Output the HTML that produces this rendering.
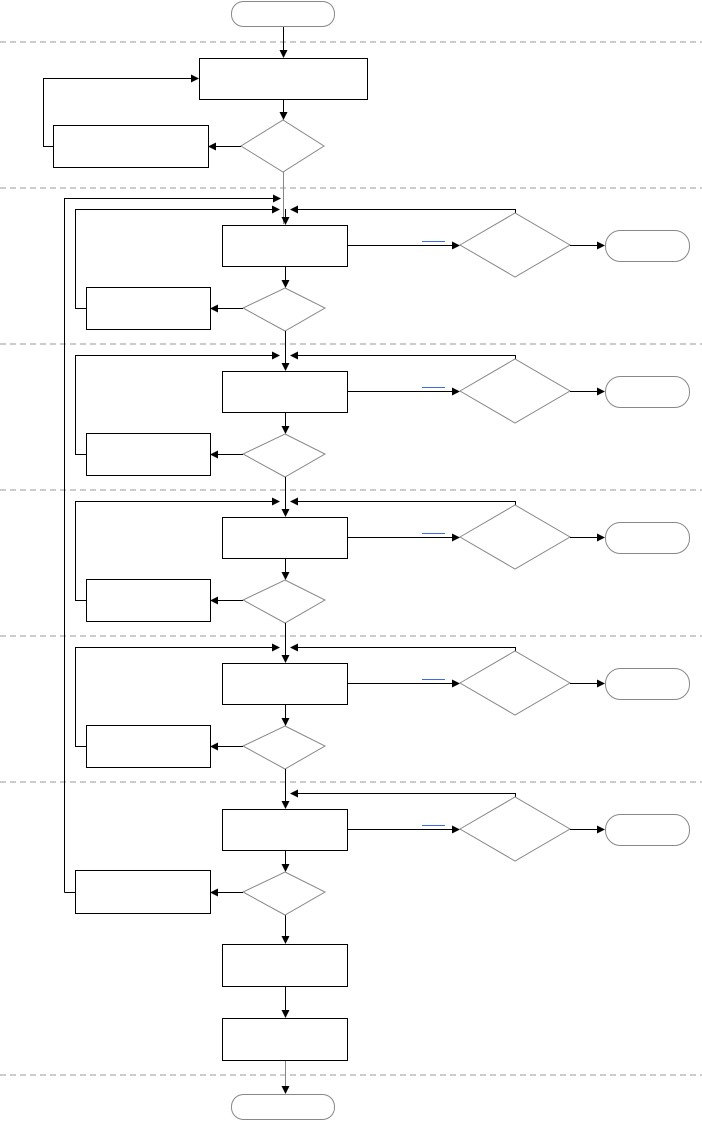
<!DOCTYPE html>
<html><head><meta charset="utf-8"><style>
html,body{margin:0;padding:0;background:#fff;}
svg{display:block;}
</style></head><body>
<svg width="702" height="1121" viewBox="0 0 702 1121" xmlns="http://www.w3.org/2000/svg" font-family="Liberation Sans, sans-serif">
<defs>
<marker id="a" markerWidth="8" markerHeight="8" refX="7" refY="4" orient="auto" markerUnits="userSpaceOnUse">
<path d="M0,0 L8,4 L0,8 z" fill="#000"/></marker>
</defs>
<g stroke="#999" stroke-dasharray="6,4" stroke-width="1">
<line x1="0" y1="42" x2="702" y2="42"/><line x1="0" y1="188" x2="702" y2="188"/>
<line x1="0" y1="344" x2="702" y2="344"/><line x1="0" y1="490" x2="702" y2="490"/>
<line x1="0" y1="636" x2="702" y2="636"/><line x1="0" y1="782" x2="702" y2="782"/>
<line x1="0" y1="1075" x2="702" y2="1075"/>
</g>
<g fill="#fff" stroke="#000" stroke-width="1">
<rect x="231.5" y="1.5" width="103" height="25" rx="12" stroke="#888"/>
<rect x="199.5" y="58.5" width="168" height="41"/>
<polygon points="283,120 324,146 283,172 241,146" stroke="#888"/>
<rect x="53.5" y="125.5" width="155" height="42"/>
<rect x="231.5" y="1094.5" width="103" height="25" rx="12" stroke="#888"/>
<rect x="222.5" y="944.5" width="125" height="42"/>
<rect x="222.5" y="1018.5" width="125" height="42"/>
</g>
<g fill="none" stroke="#000" stroke-width="1">
<path d="M283.5,27 V57" marker-end="url(#a)"/>
<path d="M283.5,100 V119" marker-end="url(#a)"/>
<path d="M241,146.5 H209" marker-end="url(#a)"/>
<path d="M53,146.5 H43.5 V78.5 H198" marker-end="url(#a)"/>
<path d="M283.5,172 V224" stroke="#888"/>
<path d="M64.5,892.5 V198.5 H280" marker-end="url(#a)"/>
<path d="M285.5,912 V943" marker-end="url(#a)"/>
<path d="M285.5,987 V1017" marker-end="url(#a)"/>
<path d="M285.5,1061 V1093" stroke="#888" marker-end="url(#a)"/>
</g>
<g id="s0">
<path d="M86,308.5 H75.5 V209.5 H279" fill="none" stroke="#000" marker-end="url(#a)"/>
<path d="M515.5,213 V209.5 H291" fill="none" stroke="#000" marker-end="url(#a)"/>
<path d="M285.5,209 V224" fill="none" stroke="#000" marker-end="url(#a)"/>
<rect x="222.5" y="225.5" width="125" height="41" fill="#fff" stroke="#000"/>
<path d="M285.5,267 V287" fill="none" stroke="#000" marker-end="url(#a)"/>
<polygon points="285,288 325,308 285,331 243,308" fill="#fff" stroke="#888"/>
<path d="M243,308.5 H211" fill="none" stroke="#000" marker-end="url(#a)"/>
<rect x="86.5" y="287.5" width="124" height="42" fill="#fff" stroke="#000"/>
<path d="M347,245.5 H459" fill="none" stroke="#000" marker-end="url(#a)"/>
<line x1="422" y1="241.5" x2="445" y2="241.5" stroke="#4169e1"/>
<polygon points="460,245 515,213 570,245 515,277" fill="#fff" stroke="#888"/>
<path d="M570,245.5 H604" fill="none" stroke="#000" marker-end="url(#a)"/>
<rect x="605.5" y="230.5" width="84" height="31" rx="15" fill="#fff" stroke="#888"/>
<path d="M285.5,331 V355" fill="none" stroke="#000"/>
</g>
<use href="#s0" y="146"/>
<use href="#s0" y="292"/>
<use href="#s0" y="438"/>
<g transform="translate(0,584)">
<path d="M515.5,213 V209.5 H291" fill="none" stroke="#000" marker-end="url(#a)"/>
<path d="M285.5,209 V224" fill="none" stroke="#000" marker-end="url(#a)"/>
<rect x="222.5" y="225.5" width="125" height="41" fill="#fff" stroke="#000"/>
<path d="M285.5,267 V287" fill="none" stroke="#000" marker-end="url(#a)"/>
<polygon points="285,288 325,308 285,331 243,308" fill="#fff" stroke="#888"/>
<path d="M243,308.5 H211" fill="none" stroke="#000" marker-end="url(#a)"/>
<rect x="75.5" y="286.5" width="135" height="43" fill="#fff" stroke="#000"/>
<path d="M75,308.5 H64.5" fill="none" stroke="#000"/>
<path d="M347,245.5 H459" fill="none" stroke="#000" marker-end="url(#a)"/>
<line x1="422" y1="241.5" x2="445" y2="241.5" stroke="#4169e1"/>
<polygon points="460,245 515,213 570,245 515,277" fill="#fff" stroke="#888"/>
<path d="M570,245.5 H604" fill="none" stroke="#000" marker-end="url(#a)"/>
<rect x="605.5" y="230.5" width="84" height="31" rx="15" fill="#fff" stroke="#888"/>
</g>
</svg>
</body></html>
